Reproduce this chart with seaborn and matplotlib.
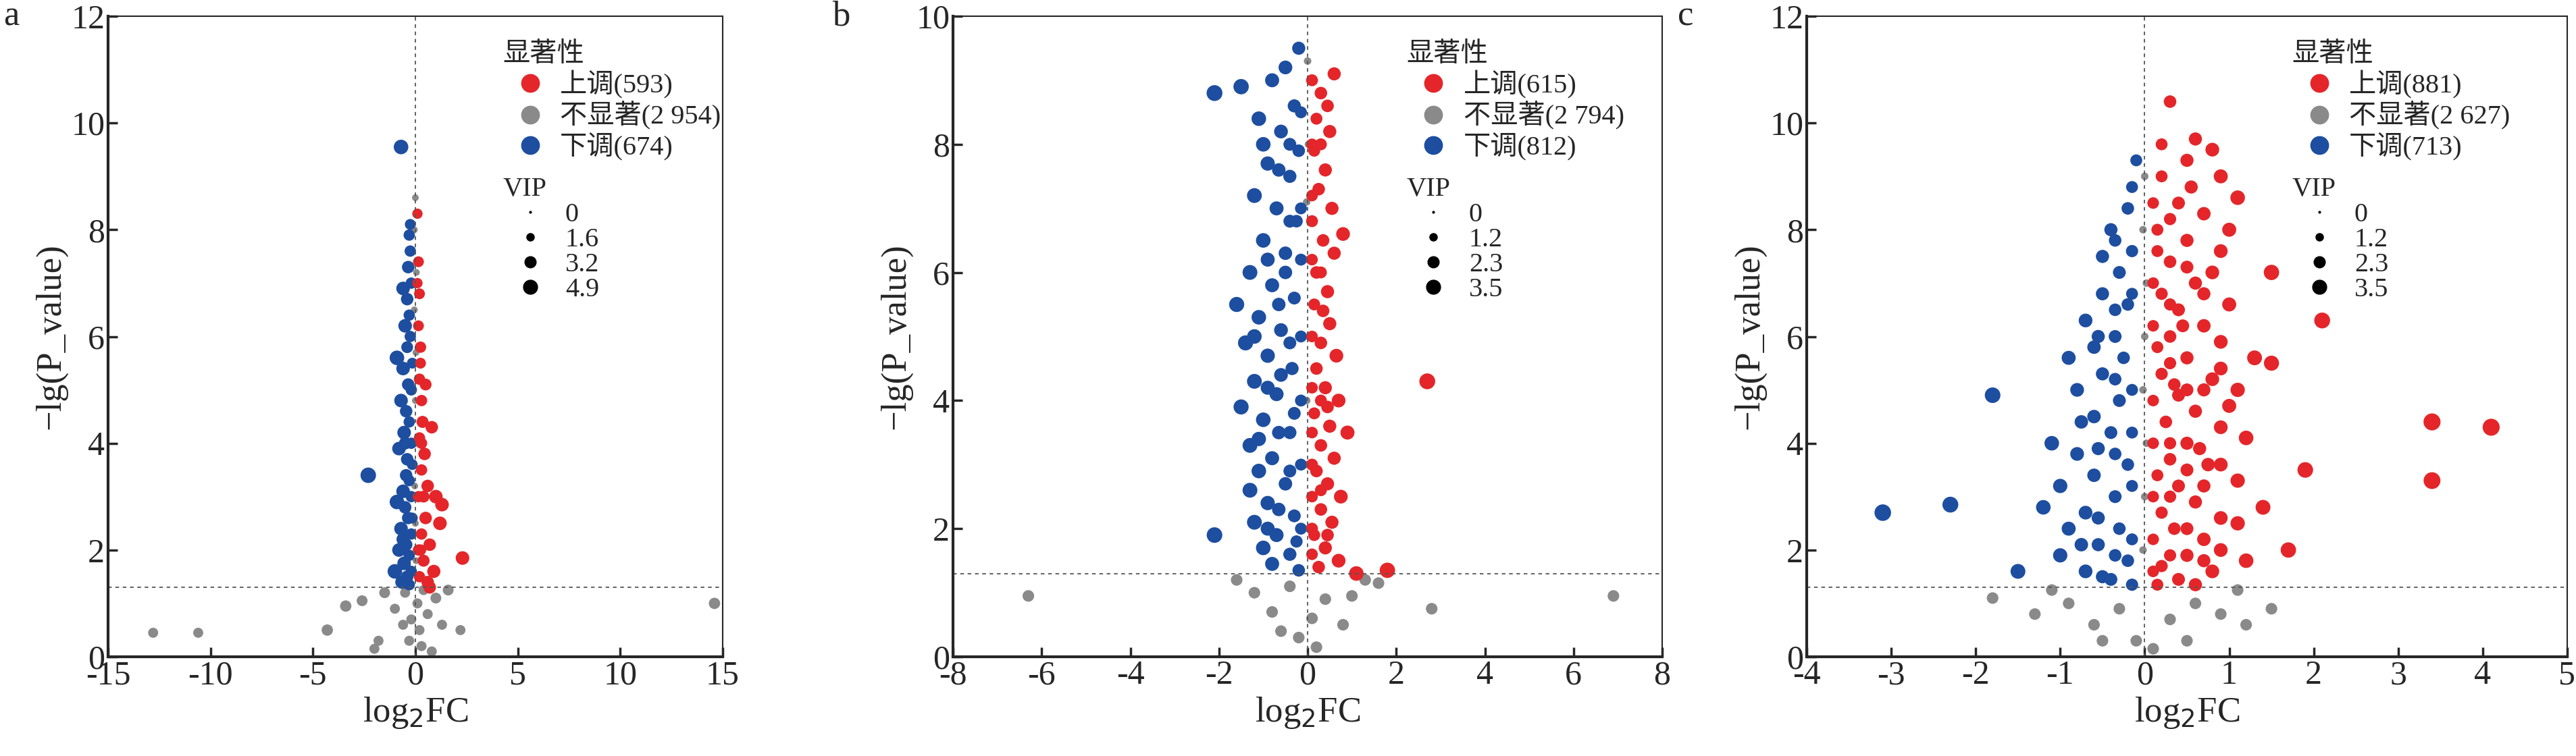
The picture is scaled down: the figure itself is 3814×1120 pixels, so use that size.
import numpy as np
import pandas as pd
import matplotlib
matplotlib.use("Agg")
import matplotlib.pyplot as plt
from matplotlib.lines import Line2D
import seaborn as sns

sns.set_style("ticks")
plt.rcParams['font.family'] = ['Liberation Serif', 'Noto Sans CJK SC']
plt.rcParams['axes.unicode_minus'] = False

# (log2FC, -lg(P), VIP)
a_up = [(0.1, 8.3, 1.6), (0.15, 7.4, 1.8), (0.2, 6.8, 1.8), (0.15, 6.2, 1.8), (0.25, 5.8, 2), (0.2, 5.2, 2),
        (0.3, 4.8, 2), (0.35, 4.4, 2.3), (0.2, 4.1, 2), (0.45, 3.8, 2.5), (0.3, 3.5, 2), (0.6, 3.2, 2.5),
        (1.0, 3.0, 3), (1.3, 2.85, 3), (1.2, 2.5, 3), (0.5, 2.6, 2.5), (0.3, 2.3, 2), (0.7, 2.1, 2.5),
        (2.3, 1.85, 3), (0.4, 1.8, 2.3), (0.9, 1.6, 2.8), (0.2, 1.5, 2), (0.6, 1.4, 2.5), (0.7, 1.3, 2.5),
        (0.8, 4.3, 2.5), (0.5, 5.1, 2.2), (0.15, 3.0, 2), (0.15, 2.0, 2), (0.1, 7.0, 1.6), (0.25, 5.5, 1.8),
        (0.3, 4.0, 2), (0.4, 3.0, 2.2), (0.25, 2.0, 2)]
a_down = [(-0.7, 9.55, 3.5), (-0.3, 7.9, 2), (-0.25, 7.6, 2), (-0.35, 7.3, 2.5), (-0.2, 7.0, 2), (-0.4, 6.7, 2.5),
          (-0.3, 6.4, 2), (-0.5, 6.2, 3), (-0.9, 5.6, 3.5), (-0.25, 6.0, 2), (-0.6, 5.4, 3), (-0.35, 5.1, 2.5),
          (-0.2, 5.0, 2), (-0.7, 4.8, 3), (-0.45, 4.6, 2.5), (-0.3, 4.4, 2), (-0.55, 4.2, 3), (-0.2, 4.0, 2),
          (-0.8, 3.9, 3), (-0.4, 3.7, 2.5), (-2.3, 3.4, 4), (-0.3, 3.3, 2), (-0.6, 3.1, 3), (-0.2, 3.0, 2),
          (-0.5, 2.8, 2.5), (-0.35, 2.6, 2.5), (-0.7, 2.4, 3), (-0.2, 2.3, 2), (-0.45, 2.1, 2.5), (-0.8, 2.0, 3),
          (-0.3, 1.9, 2), (-0.55, 1.75, 3), (-0.2, 1.6, 2), (-0.4, 1.5, 2.5), (-0.65, 1.4, 3), (-0.3, 1.35, 2),
          (-0.15, 5.5, 1.8), (-0.15, 3.6, 1.8), (-0.15, 2.6, 1.8), (-1.0, 1.6, 3.5), (-0.9, 2.9, 3.5), (-0.6, 6.9, 3),
          (-0.25, 8.1, 1.8), (-0.4, 5.8, 2.2), (-0.5, 4.0, 2.5), (-0.45, 3.4, 2.5), (-0.6, 2.2, 2.8)]
a_ns = [(0, 8.6, 0.5), (-0.05, 8.0, 0.5), (0.05, 7.2, 0.5), (-0.05, 6.5, 0.5), (0.03, 5.7, 0.5), (0, 4.8, 0.5),
        (0.02, 4.0, 0.5), (-0.03, 3.2, 0.5), (0, 2.5, 0.5), (0.03, 1.8, 0.5),
        (-12.8, 0.45, 1.5), (-10.6, 0.45, 1.5), (-4.3, 0.5, 2), (-3.4, 0.95, 2), (-2.6, 1.05, 1.8), (-1.5, 1.2, 1.8),
        (-1, 0.9, 1.5), (-0.6, 0.6, 1.5), (-0.3, 0.3, 1.5), (0.3, 0.2, 1.5), (0.6, 0.8, 1.5), (1.0, 1.1, 1.8),
        (1.6, 1.25, 1.8), (2.2, 0.5, 1.5), (-1.8, 0.3, 1.5), (0.1, 1.0, 1.5), (-0.2, 0.7, 1.5), (0.2, 0.5, 1.5),
        (0.8, 0.1, 1.5), (14.6, 1.0, 2), (-2, 0.15, 1.5), (1.3, 0.6, 1.5), (-0.5, 1.2, 1.5), (0.4, 1.25, 1.5)]

b_up = [(0.6, 9.1, 2), (0.3, 8.8, 1.8), (0.2, 8.4, 1.6), (0.5, 8.2, 2), (0.15, 7.9, 1.6), (0.4, 7.6, 2),
        (0.25, 7.3, 1.8), (0.55, 7.0, 2), (0.1, 6.8, 1.6), (0.35, 6.5, 1.8), (0.6, 6.3, 2), (0.2, 6.0, 1.8),
        (0.45, 5.7, 2), (0.15, 5.5, 1.6), (0.5, 5.2, 2), (0.3, 4.9, 1.8), (0.65, 4.7, 2.2), (0.2, 4.5, 1.8),
        (0.4, 4.2, 2), (0.7, 4.0, 2.2), (0.15, 3.8, 1.6), (0.5, 3.6, 2), (0.3, 3.3, 1.8), (0.6, 3.1, 2),
        (0.2, 2.9, 1.8), (0.45, 2.7, 2), (0.75, 2.5, 2.2), (0.3, 2.3, 1.8), (0.55, 2.1, 2), (0.15, 1.9, 1.6),
        (0.4, 1.7, 2), (0.7, 1.5, 2.2), (0.25, 1.4, 1.8), (2.7, 4.3, 3), (1.8, 1.35, 2.8), (0.9, 3.5, 2.3),
        (0.8, 6.6, 2.2), (0.1, 9.0, 1.6), (0.35, 5.4, 1.8), (0.1, 3.0, 1.6), (0.1, 2.0, 1.6), (1.1, 1.3, 2.5),
        (0.1, 8.0, 1.5), (0.1, 7.2, 1.5), (0.1, 6.2, 1.5), (0.1, 5.0, 1.5), (0.1, 4.2, 1.5), (0.1, 3.5, 1.5),
        (0.1, 2.5, 1.5), (0.1, 1.6, 1.5), (0.3, 8.0, 1.6), (0.3, 6.0, 1.6), (0.3, 4.0, 1.6), (0.3, 2.6, 1.6),
        (0.45, 8.6, 1.8), (0.45, 3.9, 1.8), (0.45, 1.9, 1.8)]
b_down = [(-2.1, 8.8, 3), (-1.5, 8.9, 2.8), (-0.2, 9.5, 2), (-0.5, 9.2, 2.2), (-0.8, 9.0, 2.3), (-0.3, 8.6, 2),
          (-1.1, 8.4, 2.5), (-0.6, 8.2, 2.2), (-0.2, 7.9, 1.8), (-0.9, 7.7, 2.4), (-0.4, 7.5, 2), (-1.2, 7.2, 2.6),
          (-0.7, 7.0, 2.3), (-0.25, 6.8, 1.8), (-1.0, 6.5, 2.5), (-0.5, 6.3, 2.1), (-1.3, 6.0, 2.6), (-0.8, 5.8, 2.3),
          (-0.3, 5.6, 1.9), (-1.1, 5.3, 2.5), (-0.6, 5.1, 2.2), (-1.4, 4.9, 2.7), (-0.9, 4.7, 2.4), (-0.35, 4.5, 2),
          (-1.2, 4.3, 2.6), (-0.7, 4.1, 2.3), (-1.5, 3.9, 2.7), (-1.0, 3.7, 2.5), (-0.4, 3.5, 2), (-1.3, 3.3, 2.6),
          (-0.8, 3.1, 2.3), (-1.1, 2.9, 2.5), (-1.3, 2.6, 2.6), (-0.5, 2.7, 2.1), (-0.9, 2.4, 2.4), (-0.3, 2.2, 1.9),
          (-1.2, 2.1, 2.6), (-2.1, 1.9, 2.9), (-0.7, 1.9, 2.3), (-1.0, 1.7, 2.5), (-0.4, 1.6, 2), (-0.8, 1.45, 2.3),
          (-0.2, 1.35, 1.8), (-0.15, 5.0, 1.6), (-0.15, 3.0, 1.6), (-0.15, 7.0, 1.6), (-1.6, 5.5, 2.7),
          (-0.6, 4.4, 2.2), (-0.5, 6.0, 2.1), (-1.0, 8.0, 2.5), (-0.3, 3.8, 1.9),
          (-0.15, 8.5, 1.6), (-0.15, 6.2, 1.6), (-0.15, 4.0, 1.6), (-0.15, 2.0, 1.6), (-0.4, 8.0, 1.9),
          (-0.4, 6.8, 1.9), (-0.4, 4.9, 1.9), (-0.4, 2.9, 1.9), (-0.65, 7.6, 2.1), (-0.65, 5.5, 2.1),
          (-0.65, 3.5, 2.1), (-0.65, 2.3, 2.1), (-0.9, 6.2, 2.3), (-0.9, 4.2, 2.3), (-0.9, 2.0, 2.3),
          (-1.2, 5.0, 2.5), (-1.1, 3.4, 2.4), (-0.25, 1.8, 1.7)]
b_ns = [(0, 9.3, 0.5), (0.02, 8.0, 0.5), (-0.02, 7.1, 0.5), (0, 6.2, 0.5), (0.03, 5.0, 0.5), (-0.02, 4.0, 0.5),
        (0, 3.0, 0.5), (0.02, 2.0, 0.5), (-6.3, 0.95, 1.5), (6.9, 0.95, 1.5), (2.8, 0.75, 1.5), (1.3, 1.2, 1.5),
        (-1.2, 1.0, 1.5), (-0.8, 0.7, 1.5), (-0.4, 1.1, 1.5), (0.4, 0.9, 1.5), (0.8, 0.5, 1.5), (-0.2, 0.3, 1.5),
        (0.2, 0.15, 1.5), (-0.6, 0.4, 1.5), (1.0, 0.95, 1.5), (1.6, 1.15, 1.5), (-1.6, 1.2, 1.5), (0.1, 0.6, 1.5)]

c_up = [(0.3, 10.4, 1.8), (0.6, 9.7, 2), (0.5, 9.3, 2), (0.8, 9.5, 2.2), (0.2, 9.0, 1.6), (0.9, 9.0, 2.3),
        (1.1, 8.6, 2.5), (0.4, 8.5, 1.9), (0.7, 8.3, 2.1), (0.15, 8.0, 1.6), (1.0, 8.0, 2.3), (0.5, 7.8, 2),
        (1.5, 7.2, 2.8), (0.3, 7.4, 1.8), (0.8, 7.2, 2.2), (0.6, 7.0, 2), (0.2, 6.8, 1.7), (1.0, 6.6, 2.3),
        (0.4, 6.5, 1.9), (2.1, 6.3, 3), (0.7, 6.2, 2.1), (0.3, 6.0, 1.8), (0.9, 5.9, 2.2), (1.3, 5.6, 2.6),
        (1.5, 5.5, 2.7), (0.5, 5.6, 2), (0.2, 5.3, 1.7), (0.8, 5.2, 2.2), (1.1, 5.0, 2.4), (0.4, 4.9, 1.9),
        (0.6, 4.6, 2), (0.25, 4.4, 1.8), (0.9, 4.3, 2.2), (3.4, 4.4, 3.5), (4.1, 4.3, 3.5), (1.2, 4.1, 2.5),
        (0.5, 4.0, 2), (0.3, 3.7, 1.8), (0.75, 3.6, 2.1), (1.9, 3.5, 2.9), (3.4, 3.3, 3.4), (1.1, 3.3, 2.4),
        (0.4, 3.2, 1.9), (0.6, 2.9, 2), (0.2, 2.7, 1.7), (0.9, 2.6, 2.2), (1.4, 2.8, 2.6), (1.1, 2.5, 2.4),
        (0.35, 2.4, 1.8), (0.7, 2.2, 2.1), (1.7, 2.0, 2.8), (0.5, 1.9, 2), (0.2, 1.7, 1.7), (0.8, 1.6, 2.2),
        (0.4, 1.45, 1.9), (0.15, 1.35, 1.6), (0.6, 1.35, 2), (0.15, 5.8, 1.6), (0.15, 3.4, 1.6), (0.15, 7.6, 1.6),
        (0.55, 8.8, 2), (0.35, 5.1, 1.8), (0.65, 3.9, 2), (0.45, 6.2, 1.9), (1.2, 1.8, 2.5),
        (0.1, 8.5, 1.5), (0.1, 7.0, 1.5), (0.1, 6.2, 1.5), (0.1, 4.8, 1.5), (0.1, 4.0, 1.5), (0.1, 3.0, 1.5),
        (0.1, 2.2, 1.5), (0.1, 1.6, 1.5), (0.3, 8.2, 1.7), (0.3, 6.6, 1.7), (0.3, 5.5, 1.7), (0.3, 4.0, 1.7),
        (0.3, 3.0, 1.7), (0.3, 1.9, 1.7), (0.5, 7.3, 1.9), (0.5, 5.0, 1.9), (0.5, 3.5, 1.9), (0.5, 2.4, 1.9),
        (0.7, 6.8, 2), (0.7, 5.0, 2), (0.7, 3.2, 2), (0.7, 1.8, 2), (0.9, 7.6, 2.2), (0.9, 5.4, 2.2),
        (0.9, 3.6, 2.2), (0.9, 2.0, 2.2), (1.0, 4.7, 2.3), (0.2, 9.6, 1.6)]
c_down = [(-0.1, 9.3, 1.6), (-0.2, 8.4, 1.8), (-0.4, 8.0, 2), (-0.15, 7.6, 1.7), (-0.3, 7.2, 1.9), (-0.5, 6.8, 2),
          (-0.2, 6.6, 1.8), (-0.7, 6.3, 2.2), (-0.35, 6.0, 1.9), (-0.9, 5.6, 2.3), (-0.25, 5.6, 1.8),
          (-0.5, 5.3, 2), (-0.8, 5.0, 2.2), (-1.8, 4.9, 2.9), (-0.3, 4.8, 1.9), (-0.6, 4.5, 2.1), (-1.1, 4.0, 2.5),
          (-0.4, 4.2, 1.9), (-0.8, 3.8, 2.2), (-0.2, 3.6, 1.8), (-0.6, 3.4, 2.1), (-1.0, 3.2, 2.4), (-0.35, 3.0, 1.9),
          (-3.1, 2.7, 3.3), (-2.3, 2.85, 3), (-0.7, 2.7, 2.2), (-0.9, 2.4, 2.3), (-0.3, 2.4, 1.8), (-0.55, 2.1, 2),
          (-1.0, 1.9, 2.4), (-0.2, 1.8, 1.8), (-0.7, 1.6, 2.2), (-1.5, 1.6, 2.6), (-0.4, 1.45, 1.9), (-0.15, 1.35, 1.7),
          (-0.15, 5.0, 1.6), (-0.15, 3.2, 1.6), (-0.15, 2.2, 1.6), (-0.5, 7.5, 2), (-1.2, 2.8, 2.5), (-0.6, 5.8, 2.1),
          (-0.15, 8.8, 1.6), (-0.15, 6.8, 1.6), (-0.15, 4.2, 1.6), (-0.35, 7.8, 1.8), (-0.35, 6.5, 1.8),
          (-0.35, 5.2, 1.8), (-0.35, 3.8, 1.8), (-0.35, 1.9, 1.8), (-0.55, 6.0, 2), (-0.55, 3.9, 2),
          (-0.55, 2.6, 2), (-0.75, 4.4, 2.1), (-0.75, 2.1, 2.1), (-0.5, 1.5, 2)]
c_ns = [(0, 9.0, 0.5), (-0.02, 8.0, 0.5), (0.02, 7.0, 0.5), (0, 6.0, 0.5), (-0.02, 5.0, 0.5), (0.02, 4.0, 0.5),
        (0, 3.0, 0.5), (-0.02, 2.0, 0.5), (-1.8, 1.1, 1.5), (-1.3, 0.8, 1.5), (-0.9, 1.0, 1.5), (-0.6, 0.6, 1.5),
        (-0.3, 0.9, 1.5), (0.3, 0.7, 1.5), (0.6, 1.0, 1.5), (0.9, 0.8, 1.5), (1.2, 0.6, 1.5), (1.5, 0.9, 1.5),
        (-0.1, 0.3, 1.5), (0.1, 0.15, 1.5), (-0.5, 0.3, 1.5), (0.5, 0.3, 1.5), (1.1, 1.25, 1.5), (-1.1, 1.25, 1.5)]

counts = [("593", "2 954", "674"), ("615", "2 794", "812"), ("881", "2 627", "713")]
vip_ticks = [("0", "1.6", "3.2", "4.9"), ("0", "1.2", "2.3", "3.5"), ("0", "1.2", "2.3", "3.5")]
panels = [(a_up, a_ns, a_down), (b_up, b_ns, b_down), (c_up, c_ns, c_down)]
xlims = [(-15, 15), (-8, 8), (-4, 5)]
xsteps = [5, 2, 1]
ylims = [12, 10, 12]
letters = ["a", "b", "c"]

RED, GREY, BLUE = "#e4262a", "#8a8a8a", "#1d4ea0"
palette = {"up": RED, "ns": GREY, "down": BLUE}

fig = plt.figure(figsize=(38.14, 11.2), dpi=100)
boxes = [(160, 1070), (1411, 2461), (2675, 3801)]
W, H = 3814, 1120

for i, (up, ns, down) in enumerate(panels):
    x0, x1 = boxes[i]
    ax = fig.add_axes([x0 / W, (H - 973) / H, (x1 - x0) / W, (973 - 24) / H])
    rows = [(x, y, v, "ns") for x, y, v in ns] + [(x, y, v, "down") for x, y, v in down] + \
           [(x, y, v, "up") for x, y, v in up]
    df = pd.DataFrame(rows, columns=["fc", "p", "vip", "sig"])
    vmax = float(vip_ticks[i][-1])
    sns.scatterplot(data=df, x="fc", y="p", hue="sig", palette=palette, size="vip",
                    sizes=(20, 330), size_norm=(0, vmax), linewidth=0, legend=False, ax=ax)
    ax.axhline(1.3, color="#555555", ls=(0, (3, 3)), lw=1.3)
    ax.axvline(0, color="#555555", ls=(0, (3, 3)), lw=1.3)
    ax.set_xlim(*xlims[i])
    ax.set_ylim(0, ylims[i])
    ax.set_xticks(np.arange(xlims[i][0], xlims[i][1] + 0.1, xsteps[i]))
    ax.set_yticks(np.arange(0, ylims[i] + 0.1, 2))
    ax.tick_params(labelsize=36, width=2.5, length=10, direction="in")
    ax.spines["left"].set_linewidth(3)
    ax.spines["bottom"].set_linewidth(3)
    ax.spines["top"].set_linewidth(1.5)
    ax.spines["right"].set_linewidth(1.5)
    ax.set_xlabel("log$_2$FC", fontsize=38)
    ax.set_ylabel("−lg(P_value)", fontsize=38)
    ax.text(-0.17, 1.0, letters[i], transform=ax.transAxes, fontsize=38, va="center")

    h = [Line2D([], [], marker="o", ls="", color=c, markersize=19) for c in (RED, GREY, BLUE)]
    labs = ["上调(%s)" % counts[i][0], "不显著(%s)" % counts[i][1], "下调(%s)" % counts[i][2]]
    leg1 = ax.legend(h, labs, title="显著性", loc="upper left", bbox_to_anchor=(0.62, 0.98),
                     frameon=False, fontsize=29, title_fontsize=29, handletextpad=0.1,
                     labelspacing=0.1, borderpad=0, alignment="left")
    ax.add_artist(leg1)
    sz = [2, 8, 12, 15]
    h2 = [Line2D([], [], marker="o", ls="", color="black", markersize=m) for m in sz]
    ax.legend(h2, list(vip_ticks[i]), title="VIP", loc="upper left", bbox_to_anchor=(0.62, 0.77),
              frameon=False, fontsize=29, title_fontsize=29, handletextpad=0.3,
              labelspacing=0.0, borderpad=0, alignment="left")

fig.savefig("out.png", dpi=100)
